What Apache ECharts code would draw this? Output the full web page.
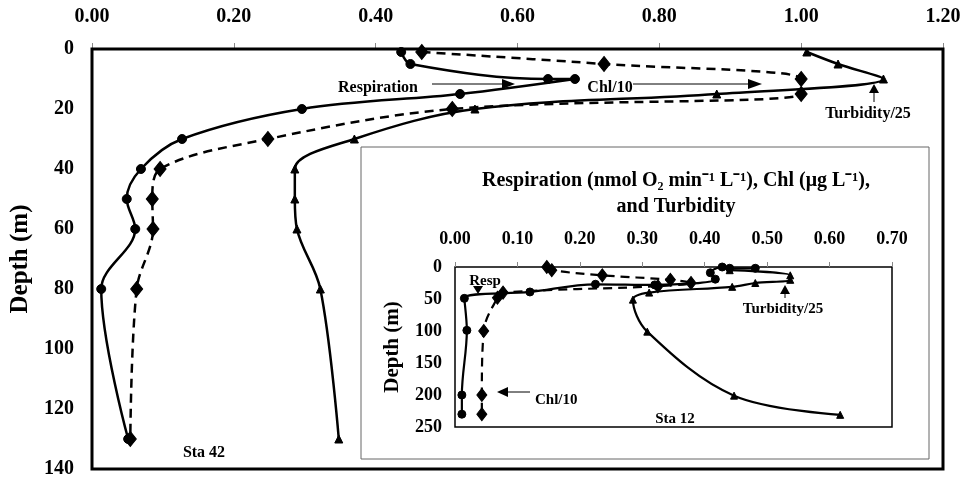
<!DOCTYPE html>
<html><head><meta charset="utf-8">
<script src="https://cdn.jsdelivr.net/npm/echarts@6/dist/echarts.min.js"></script>
<style>html,body{margin:0;padding:0;background:#fff}#c{width:971px;height:481px}</style>
</head><body><div id="c"></div>
<script>
// Station 42 (main panel)
const mainRespDepth = [1, 5, 10, 10, 15, 20, 30, 40, 50, 60, 80, 130];
const mainResp      = [0.436, 0.449, 0.643, 0.681, 0.519, 0.296, 0.127, 0.069, 0.049, 0.061, 0.013, 0.051];
const mainChlDepth  = [1, 5, 10, 15, 20, 30, 40, 50, 60, 80, 130];
const mainChl       = [0.465, 0.722, 1.0, 1.0, 0.508, 0.248, 0.096, 0.085, 0.086, 0.063, 0.054];
const mainTurbDepth = [1, 5, 10, 15, 20, 30, 40, 50, 60, 80, 130];
const mainTurb      = [1.008, 1.052, 1.116, 0.881, 0.540, 0.370, 0.286, 0.286, 0.289, 0.322, 0.348];
// Station 12 (inset)
const insetRespDepth = [2, 2, 0, 9, 19, 28, 27, 39, 49, 99, 200, 230];
const insetResp      = [0.481, 0.44, 0.428, 0.409, 0.417, 0.32, 0.225, 0.12, 0.015, 0.019, 0.011, 0.011];
const insetChlDepth  = [0, 5, 13, 20, 25, 30, 40, 48, 100, 200, 230];
const insetChl       = [0.147, 0.155, 0.236, 0.345, 0.378, 0.325, 0.077, 0.068, 0.046, 0.043, 0.043];
const insetTurbDepth = [5, 13, 20, 25, 31, 40, 51, 101, 201, 231];
const insetTurb      = [0.44, 0.537, 0.537, 0.481, 0.444, 0.311, 0.285, 0.308, 0.447, 0.617];
// Axis ticks
const mainXTicks = {min: 0, max: 1.2, interval: 0.2};
const mainYTicks = {min: 0, max: 140, interval: 20};
const insetXTicks = {min: 0, max: 0.7, interval: 0.1};
const insetYTicks = {min: 0, max: 250, interval: 50};

const pairs = (xs, ys) => xs.map((v, i) => [v, ys[i]]);
const F = 'Liberation Serif, Times New Roman, serif';
const chart = echarts.init(document.getElementById('c'), null, {renderer: 'canvas'});

function ser(name, xs, ys, gi, symbol, size, dashed, lw) {
  return {
    name, type: 'line', xAxisIndex: gi, yAxisIndex: gi,
    data: pairs(xs, ys), smooth: 0.35, symbol, symbolSize: size,
    showAllSymbol: true, z: gi === 1 ? 10 : 3,
    lineStyle: {color: '#000', width: lw, type: dashed ? [9, 6] : 'solid'},
    itemStyle: {color: '#000', borderColor: '#000'},
    animation: false
  };
}
function txt(x, y, t, size, align) {
  return {type: 'text', x, y, z: 20, style: {text: t, font: `bold ${size}px ${F}`, fill: '#000', align: align || 'center', verticalAlign: 'middle'}};
}
function line(x1, y1, x2, y2) {
  return {type: 'line', z: 20, shape: {x1, y1, x2, y2}, style: {stroke: '#000', lineWidth: 1}};
}
function tri(pts) {
  return {type: 'polygon', z: 20, shape: {points: pts}, style: {fill: '#000'}};
}

const option = {
  animation: false,
  backgroundColor: '#fff',
  grid: [
    {left: 92, top: 49, width: 851, height: 420, show: true, borderColor: '#000', borderWidth: 3, backgroundColor: 'transparent', z: 1},
    {left: 455, top: 267, width: 437, height: 160, show: true, borderColor: '#000', borderWidth: 1.5, backgroundColor: '#fff', z: 6}
  ],
  xAxis: [
    {type: 'value', gridIndex: 0, position: 'top', ...mainXTicks,
     axisLine: {show: false}, splitLine: {show: false},
     axisTick: {show: true, inside: false, length: 6, lineStyle: {color: '#888', width: 1}},
     axisLabel: {margin: 22, formatter: v => v.toFixed(2), fontFamily: F, fontWeight: 'bold', fontSize: 20, color: '#000'}},
    {type: 'value', gridIndex: 1, position: 'top', ...insetXTicks, z: 6,
     axisLine: {show: false}, splitLine: {show: false},
     axisTick: {show: true, length: 5, lineStyle: {color: '#888', width: 1}},
     axisLabel: {margin: 19, formatter: v => v.toFixed(2), fontFamily: F, fontWeight: 'bold', fontSize: 18, color: '#000'}}
  ],
  yAxis: [
    {type: 'value', gridIndex: 0, inverse: true, ...mainYTicks,
     axisLine: {show: false}, splitLine: {show: false}, axisTick: {show: false},
     axisLabel: {margin: 18, fontFamily: F, fontWeight: 'bold', fontSize: 20, color: '#000'},
     name: 'Depth (m)', nameLocation: 'middle', nameGap: 48, nameRotate: 90,
     nameTextStyle: {fontFamily: F, fontWeight: 'bold', fontSize: 25, color: '#000'}},
    {type: 'value', gridIndex: 1, inverse: true, ...insetYTicks, z: 6,
     axisLine: {show: false}, splitLine: {show: false}, axisTick: {show: false},
     axisLabel: {margin: 13, fontFamily: F, fontWeight: 'bold', fontSize: 18, color: '#000'},
     name: 'Depth (m)', nameLocation: 'middle', nameGap: 52, nameRotate: 90,
     nameTextStyle: {fontFamily: F, fontWeight: 'bold', fontSize: 21, color: '#000'}}
  ],
  graphic: [
    {type: 'rect', z: 0, zlevel: 0, shape: {x: 361, y: 147, width: 568, height: 312},
     style: {fill: '#fff', stroke: '#666', lineWidth: 1}},
    // main annotations
    txt(378, 88, 'Respiration', 16),
    line(432, 84, 505, 84), tri([[515, 84], [502, 79], [502, 89]]),
    txt(610, 88, 'Chl/10', 16),
    line(633, 84, 750, 84), tri([[762, 84], [748, 79], [748, 89]]),
    line(874, 92, 874, 102), tri([[874, 84], [869, 93], [879, 93]]),
    txt(868, 114, 'Turbidity/25', 16),
    txt(204, 453, 'Sta 42', 16),
    // inset title and annotations
    txt(676, 181, 'Respiration (nmol O\u2082 min\u207B\u00B9 L\u207B\u00B9), Chl (\u03BCg L\u207B\u00B9),', 20),
    txt(676, 207, 'and Turbidity', 20),
    txt(485, 281, 'Resp', 15),
    tri([[478, 294], [473, 286], [483, 286]]),
    line(506, 392, 530, 392), tri([[497, 392], [508, 387], [508, 397]]),
    txt(535, 400, 'Chl/10', 15, 'left'),
    line(785, 293, 785, 298), tri([[785, 285], [780, 294], [790, 294]]),
    txt(783, 309, 'Turbidity/25', 15),
    txt(675, 419, 'Sta 12', 15)
  ],
  series: [
    ser('Resp42', mainResp, mainRespDepth, 0, 'circle', 9, false, 2.5),
    ser('Chl42', mainChl, mainChlDepth, 0, 'diamond', [12, 15], true, 2.5),
    ser('Turb42', mainTurb, mainTurbDepth, 0, 'triangle', 8, false, 2.5),
    ser('Resp12', insetResp, insetRespDepth, 1, 'circle', 8, false, 2.2),
    ser('Chl12', insetChl, insetChlDepth, 1, 'diamond', [10, 13], true, 2.2),
    ser('Turb12', insetTurb, insetTurbDepth, 1, 'triangle', 7, false, 2.2)
  ]
};
chart.setOption(option);
</script>
</body></html>
